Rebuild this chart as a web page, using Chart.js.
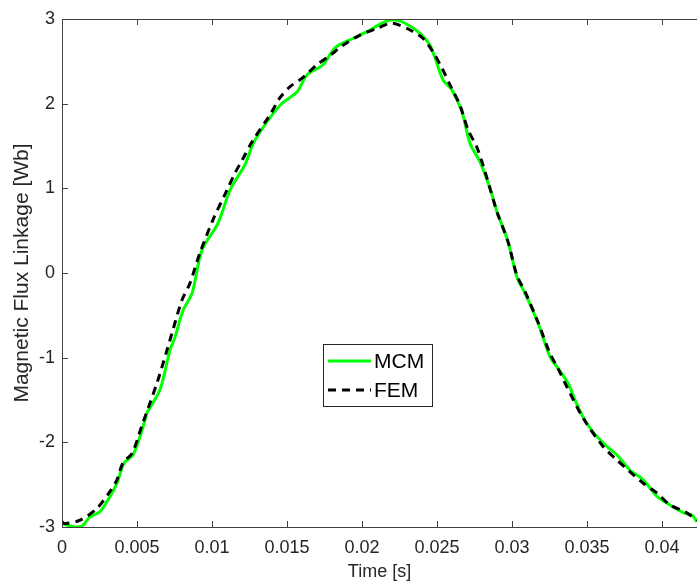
<!DOCTYPE html>
<html lang="en">

<head>
    <meta charset="UTF-8" />
    <title>Magnetic Flux Linkage - MCM vs FEM</title>
    <script src="https://cdn.jsdelivr.net/npm/chart.js"></script>
    <style>
        html, body { margin: 0; padding: 0; background: #fff; }
        #wrap { width: 697px; height: 583px; position: relative; }
    </style>
</head>

<body>
    <div id="wrap"><canvas id="grafica"></canvas></div>

    <script>
        // MCM curve (green, solid)
        const mcmTime = [0, 0.00087, 0.00133, 0.00187, 0.00253, 0.0032, 0.00367, 0.004, 0.0042, 0.00473,
            0.0052, 0.00553, 0.00567, 0.00653, 0.0072, 0.00753, 0.00807, 0.00867, 0.00933, 0.0104,
            0.0112, 0.01187, 0.0122, 0.01287, 0.01453, 0.01567, 0.01633, 0.0174, 0.0182, 0.0194,
            0.02033, 0.02133, 0.02207, 0.02287, 0.02387, 0.02453, 0.02487, 0.0254, 0.026, 0.02667,
            0.0272, 0.02787, 0.02853, 0.029, 0.0292, 0.02973, 0.03033, 0.03087, 0.03173, 0.03253,
            0.033, 0.03373, 0.0342, 0.03473, 0.0354, 0.03633, 0.037, 0.03787, 0.03873, 0.03967,
            0.04053, 0.04153, 0.042, 0.04233];
        const mcmFlux = [-2.96, -3.0, -2.99, -2.88, -2.82, -2.64, -2.48, -2.30, -2.23, -2.15,
            -1.93, -1.74, -1.65, -1.38, -0.91, -0.76, -0.44, -0.24, 0.27, 0.59,
            0.98, 1.18, 1.28, 1.57, 1.98, 2.14, 2.34, 2.46, 2.66, 2.77,
            2.85, 2.95, 2.99, 2.95, 2.83, 2.69, 2.54, 2.28, 2.16, 1.90,
            1.53, 1.31, 1.00, 0.72, 0.63, 0.37, -0.05, -0.24, -0.59, -0.99,
            -1.11, -1.30, -1.50, -1.70, -1.88, -2.05, -2.15, -2.33, -2.44, -2.64,
            -2.74, -2.84, -2.86, -2.94];

        // FEM curve (black, dashed)
        const femTime = [0, 0.0002, 0.0012, 0.00233, 0.0032, 0.00367, 0.00407, 0.00467, 0.00533, 0.00633,
            0.007, 0.00733, 0.008, 0.00853, 0.0092, 0.01007, 0.011, 0.01153, 0.012, 0.01267,
            0.01387, 0.01453, 0.0152, 0.01607, 0.017, 0.01787, 0.01873, 0.01987, 0.021, 0.022,
            0.0232, 0.02407, 0.02473, 0.02533, 0.02587, 0.02653, 0.02707, 0.02767, 0.02833, 0.029,
            0.02973, 0.03033, 0.03087, 0.03173, 0.03253, 0.03307, 0.03367, 0.03473, 0.03607, 0.037,
            0.03787, 0.03873, 0.03967, 0.04053, 0.04153, 0.04233];
        const femFlux = [-2.94, -2.96, -2.92, -2.78, -2.58, -2.44, -2.24, -2.13, -1.80, -1.30,
            -0.91, -0.71, -0.32, -0.12, 0.24, 0.63, 0.98, 1.18, 1.33, 1.55,
            1.87, 2.07, 2.20, 2.31, 2.46, 2.57, 2.69, 2.81, 2.89, 2.95,
            2.87, 2.77, 2.61, 2.42, 2.22, 1.98, 1.69, 1.48, 1.12, 0.72,
            0.37, -0.03, -0.22, -0.58, -0.95, -1.13, -1.35, -1.71, -2.05, -2.21,
            -2.35, -2.48, -2.60, -2.74, -2.82, -2.92];

        const xTicks = [0, 0.005, 0.01, 0.015, 0.02, 0.025, 0.03, 0.035, 0.04];
        const xTickLabels = ['0', '0.005', '0.01', '0.015', '0.02', '0.025', '0.03', '0.035', '0.04'];
        const yTicks = [-3, -2, -1, 0, 1, 2, 3];
        const seriesNames = ['MCM', 'FEM'];

        const xMax = 0.04233;
        const axisColor = '#404040';
        const textColor = '#262626';
        const fontFamily = '"Liberation Sans", Arial, Helvetica, sans-serif';

        function pares(ts, vs) {
            return ts.map((t, i) => ({ x: t, y: vs[i] }));
        }

        // MATLAB-style box: top line and inward tick marks
        const cajaMatlab = {
            id: 'cajaMatlab',
            afterDatasetsDraw(chart) {
                const { ctx, chartArea, scales } = chart;
                const len = 6;
                ctx.save();
                ctx.strokeStyle = axisColor;
                ctx.lineWidth = 1;
                ctx.beginPath();
                ctx.moveTo(chartArea.left, chartArea.top + 0.5);
                ctx.lineTo(chartArea.right, chartArea.top + 0.5);
                xTicks.forEach(v => {
                    const px = Math.round(scales.x.getPixelForValue(v)) + 0.5;
                    ctx.moveTo(px, chartArea.bottom);
                    ctx.lineTo(px, chartArea.bottom - len);
                    ctx.moveTo(px, chartArea.top);
                    ctx.lineTo(px, chartArea.top + len);
                });
                yTicks.forEach(v => {
                    const py = Math.round(scales.y.getPixelForValue(v)) + 0.5;
                    ctx.moveTo(chartArea.left, py);
                    ctx.lineTo(chartArea.left + len, py);
                });
                ctx.stroke();
                ctx.restore();
            }
        };

        // legend box inside the axes, like the MATLAB one
        const leyenda = {
            id: 'leyenda',
            afterDraw(chart) {
                const { ctx } = chart;
                const bx = 323, by = 344, bw = 109, bh = 62;
                ctx.save();
                ctx.fillStyle = '#fff';
                ctx.fillRect(bx, by, bw, bh);
                ctx.strokeStyle = '#262626';
                ctx.lineWidth = 1;
                ctx.strokeRect(bx + 0.5, by + 0.5, bw, bh);
                const rows = [by + 17, by + 46];
                chart.data.datasets.slice().sort((a, b) => b.order - a.order).forEach((ds, i) => {
                    const y = rows[i];
                    ctx.strokeStyle = ds.borderColor;
                    ctx.lineWidth = ds.borderWidth;
                    ctx.setLineDash(ds.borderDash || []);
                    ctx.beginPath();
                    ctx.moveTo(bx + 5, y);
                    ctx.lineTo(bx + 48, y);
                    ctx.stroke();
                    ctx.setLineDash([]);
                    ctx.fillStyle = '#000';
                    ctx.font = '21px ' + fontFamily;
                    ctx.textBaseline = 'middle';
                    ctx.fillText(ds.label, bx + 51, y + 1);
                });
                ctx.restore();
            }
        };

        const ctx = document.getElementById('grafica').getContext('2d');
        new Chart(ctx, {
            type: 'line',
            data: {
                datasets: [{
                    label: seriesNames[0],
                    data: pares(mcmTime, mcmFlux),
                    borderColor: '#00ff00',
                    borderWidth: 3,
                    pointRadius: 0,
                    tension: 0.3,
                    order: 2
                }, {
                    label: seriesNames[1],
                    data: pares(femTime, femFlux),
                    borderColor: '#000000',
                    borderWidth: 3,
                    borderDash: [8, 6],
                    pointRadius: 0,
                    tension: 0.3,
                    order: 1
                }]
            },
            options: {
                responsive: true,
                maintainAspectRatio: false,
                animation: false,
                layout: { padding: { top: 19, right: 0, left: 0, bottom: 0 } },
                plugins: {
                    legend: { display: false },
                    tooltip: { enabled: false }
                },
                scales: {
                    x: {
                        type: 'linear',
                        min: 0,
                        max: xMax,
                        afterBuildTicks: s => { s.ticks = xTicks.map(v => ({ value: v })); },
                        afterFit: s => { s.height = 56; },
                        grid: { display: false, drawTicks: false },
                        border: { display: true, color: axisColor, width: 1 },
                        ticks: {
                            padding: 10,
                            color: textColor,
                            font: { family: fontFamily, size: 18 },
                            maxRotation: 0,
                            callback: (v, i) => xTickLabels[i]
                        },
                        title: {
                            display: true,
                            text: 'Time [s]',
                            color: textColor,
                            font: { family: fontFamily, size: 18 },
                            padding: { top: 0, bottom: 0 }
                        }
                    },
                    y: {
                        min: -3,
                        max: 3,
                        afterBuildTicks: s => { s.ticks = yTicks.map(v => ({ value: v })); },
                        afterFit: s => { s.width = 62; },
                        grid: { display: false, drawTicks: false },
                        border: { display: true, color: axisColor, width: 1 },
                        ticks: {
                            padding: 7,
                            color: textColor,
                            font: { family: fontFamily, size: 18 },
                            callback: v => String(v)
                        },
                        title: {
                            display: true,
                            text: 'Magnetic Flux Linkage [Wb]',
                            color: textColor,
                            font: { family: fontFamily, size: 21 },
                            padding: { top: 10, bottom: 0 }
                        }
                    }
                }
            },
            plugins: [cajaMatlab, leyenda]
        });
    </script>
</body>

</html>
